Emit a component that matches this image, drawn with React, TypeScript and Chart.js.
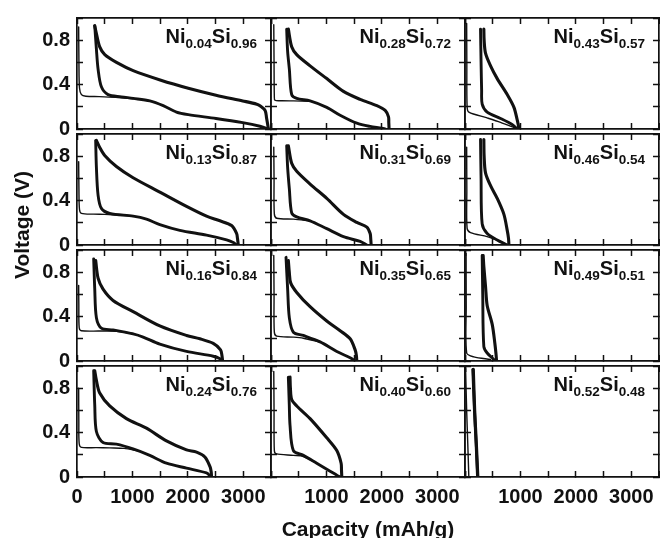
import React, { useEffect, useRef } from 'react';
import { Chart, registerables } from 'chart.js';

Chart.register(...registerables);

type Pt = [number, number];

// Compositions, column by column (top to bottom)
const niFractions = ['0.04', '0.13', '0.16', '0.24', '0.28', '0.31', '0.35', '0.40', '0.43', '0.46', '0.49', '0.52'];
const siFractions = ['0.96', '0.87', '0.84', '0.76', '0.72', '0.69', '0.65', '0.60', '0.57', '0.54', '0.51', '0.48'];

const xTickLabelsFirst = ['0', '1000', '2000', '3000'];
const xTickLabelsOther = ['1000', '2000', '3000'];
const yTickLabels = ['0', '0.4', '0.8'];
const xRange = [0, 3500];
const yRange = [0, 1];
const xStep = 500;
const yStep = 0.2;

// ---- Ni0.04Si0.96
const d1_004: Pt[] = [[30, 0.92], [35, 0.6], [45, 0.37], [80, 0.31], [160, 0.295], [400, 0.292], [700, 0.285], [1013, 0.272]];
const dn_004: Pt[] = [[320, 0.93], [350, 0.72], [380, 0.54], [440, 0.38], [560, 0.31], [800, 0.29], [1013, 0.276], [1313, 0.253], [1555, 0.21], [1795, 0.152], [2008, 0.129], [2508, 0.095], [2990, 0.057], [3300, 0.025], [3454, 0]];
const ch_004: Pt[] = [[3454, 0], [3420, 0.1], [3394, 0.167], [3300, 0.21], [3244, 0.224], [2990, 0.253], [2508, 0.305], [2008, 0.368], [1513, 0.44], [1013, 0.526], [712, 0.6], [501, 0.67], [410, 0.74], [350, 0.86], [320, 0.93]];
// ---- Ni0.13Si0.87
const d1_013: Pt[] = [[30, 0.75], [35, 0.5], [45, 0.32], [80, 0.285], [300, 0.278], [500, 0.276], [711, 0.27], [1012, 0.26]];
const dn_013: Pt[] = [[337, 0.94], [350, 0.7], [380, 0.45], [440, 0.33], [590, 0.285], [1012, 0.26], [1253, 0.233], [1494, 0.184], [1855, 0.132], [2337, 0.089], [2699, 0.046], [2830, 0.02], [2880, 0]];
const ch_013: Pt[] = [[2910, 0], [2895, 0.06], [2880, 0.103], [2789, 0.175], [2578, 0.218], [2337, 0.26], [1976, 0.348], [1494, 0.477], [1012, 0.606], [711, 0.707], [500, 0.807], [410, 0.879], [350, 0.943]];
// ---- Ni0.16Si0.84
const d1_016: Pt[] = [[30, 0.68], [33, 0.5], [40, 0.3], [78, 0.273], [400, 0.27], [710, 0.268], [1012, 0.248]];
const dn_016: Pt[] = [[301, 0.92], [320, 0.65], [350, 0.39], [440, 0.296], [650, 0.28], [1012, 0.244], [1193, 0.216], [1494, 0.152], [1976, 0.086], [2458, 0.043], [2580, 0.02], [2608, 0]];
const ch_016: Pt[] = [[2627, 0], [2615, 0.05], [2590, 0.1], [2458, 0.158], [2217, 0.2], [1976, 0.23], [1494, 0.316], [1012, 0.445], [650, 0.546], [470, 0.647], [380, 0.747], [337, 0.905]];
// ---- Ni0.24Si0.76
const d1_024: Pt[] = [[30, 0.8], [33, 0.5], [40, 0.3], [80, 0.267], [350, 0.265], [590, 0.262], [850, 0.258], [1100, 0.236]];
const dn_024: Pt[] = [[301, 0.957], [320, 0.65], [350, 0.41], [470, 0.31], [711, 0.296], [1012, 0.253], [1313, 0.195], [1614, 0.124], [1976, 0.08], [2337, 0.037], [2390, 0.015], [2398, 0]];
const ch_024: Pt[] = [[2428, 0], [2420, 0.05], [2398, 0.095], [2307, 0.18], [2157, 0.224], [1976, 0.244], [1614, 0.325], [1253, 0.44], [892, 0.526], [590, 0.64], [410, 0.756], [350, 0.87], [320, 0.957]];
// ---- Ni0.28Si0.72
const d1_028: Pt[] = [[50, 0.94], [55, 0.6], [60, 0.3], [72, 0.259], [200, 0.255], [404, 0.253], [705, 0.25]];
const dn_028: Pt[] = [[283, 0.9], [300, 0.7], [331, 0.54], [373, 0.31], [464, 0.276], [705, 0.253], [1006, 0.195], [1247, 0.124], [1548, 0.052], [1789, 0.023], [2000, 0.008], [2060, 0]];
const ch_028: Pt[] = [[2130, 0], [2125, 0.06], [2120, 0.109], [2060, 0.167], [1910, 0.21], [1608, 0.267], [1307, 0.339], [1006, 0.454], [705, 0.569], [464, 0.67], [373, 0.741], [313, 0.9]];
// ---- Ni0.31Si0.69
const d1_031: Pt[] = [[50, 0.88], [55, 0.6], [60, 0.28], [102, 0.241], [404, 0.233], [705, 0.218]];
const dn_031: Pt[] = [[283, 0.894], [300, 0.7], [331, 0.506], [373, 0.29], [464, 0.253], [705, 0.218], [1006, 0.147], [1307, 0.075], [1608, 0.032], [1729, 0]];
const ch_031: Pt[] = [[1807, 0], [1800, 0.05], [1789, 0.103], [1729, 0.161], [1548, 0.204], [1307, 0.276], [1006, 0.42], [705, 0.549], [464, 0.664], [373, 0.736], [313, 0.894]];
// ---- Ni0.35Si0.65
const d1_035: Pt[] = [[50, 0.95], [55, 0.6], [60, 0.26], [102, 0.224], [400, 0.215], [584, 0.205], [886, 0.17]];
const dn_035: Pt[] = [[271, 0.934], [300, 0.65], [331, 0.388], [404, 0.259], [584, 0.23], [886, 0.172], [1187, 0.086], [1428, 0.029], [1518, 0]];
const ch_035: Pt[] = [[1548, 0], [1540, 0.05], [1518, 0.1], [1428, 0.2], [1247, 0.273], [1006, 0.36], [705, 0.489], [464, 0.618], [355, 0.704], [330, 0.8], [313, 0.905]];
// ---- Ni0.40Si0.60
const d1_040: Pt[] = [[50, 0.95], [55, 0.6], [60, 0.24], [90, 0.21], [404, 0.195], [584, 0.185], [825, 0.124]];
const dn_040: Pt[] = [[313, 0.9], [330, 0.65], [343, 0.468], [404, 0.238], [584, 0.195], [825, 0.124], [1066, 0.052], [1200, 0.012], [1247, 0]];
const ch_040: Pt[] = [[1277, 0], [1272, 0.06], [1265, 0.124], [1187, 0.238], [1006, 0.353], [705, 0.526], [464, 0.64], [373, 0.698], [350, 0.8], [343, 0.9]];
// ---- Ni0.43Si0.57
const d1_043: Pt[] = [[30, 0.95], [33, 0.6], [38, 0.2], [69, 0.152], [400, 0.1], [641, 0.06], [900, 0.01]];
const dn_043: Pt[] = [[280, 0.9], [290, 0.6], [300, 0.35], [310, 0.224], [400, 0.152], [641, 0.095], [850, 0.04], [943, 0]];
const ch_043: Pt[] = [[973, 0], [960, 0.04], [943, 0.08], [883, 0.195], [762, 0.31], [581, 0.454], [461, 0.569], [370, 0.684], [345, 0.8], [340, 0.9]];
// ---- Ni0.46Si0.54
const d1_046: Pt[] = [[30, 0.88], [33, 0.5], [38, 0.15], [99, 0.112], [400, 0.075], [600, 0.04]];
const dn_046: Pt[] = [[280, 0.95], [290, 0.6], [310, 0.19], [400, 0.103], [581, 0.046], [700, 0.015], [762, 0]];
const ch_046: Pt[] = [[792, 0], [785, 0.06], [762, 0.132], [702, 0.276], [581, 0.42], [461, 0.534], [370, 0.65], [345, 0.8], [340, 0.95]];
// ---- Ni0.49Si0.51
const d1_049: Pt[] = [[20, 0.97], [22, 0.5], [30, 0.072], [160, 0.037], [461, 0.014]];
const dn_049: Pt[] = [[310, 0.95], [320, 0.6], [340, 0.13], [400, 0.072], [521, 0.014], [551, 0]];
const ch_049: Pt[] = [[569, 0], [560, 0.06], [539, 0.158], [491, 0.33], [400, 0.5], [370, 0.675], [340, 0.85], [328, 0.95]];
// ---- Ni0.52Si0.48
const d1_052: Pt[] = [[10, 0.98], [30, 0.6], [50, 0.3], [69, 0]];
const dn_052: Pt[] = [[141, 0.97], [170, 0.6], [200, 0.3], [226, 0]];
const ch_052: Pt[] = [[232, 0], [205, 0.3], [175, 0.6], [150, 0.97]];

const firstDischarge = [d1_004, d1_013, d1_016, d1_024, d1_028, d1_031, d1_035, d1_040, d1_043, d1_046, d1_049, d1_052];
const laterDischarge = [dn_004, dn_013, dn_016, dn_024, dn_028, dn_031, dn_035, dn_040, dn_043, dn_046, dn_049, dn_052];
const chargeCurves = [ch_004, ch_013, ch_016, ch_024, ch_028, ch_031, ch_035, ch_040, ch_043, ch_046, ch_049, ch_052];

// layout (pixels)
const PANEL_W = 194;
const PANEL_H = 116;
const ORIGIN_X = 77;
const ORIGIN_Y = 13;
const M_L = 60;
const M_R = 20;
const M_T = 20;
const M_B = 50;

const INK = '#111111';
const FONT = "'Liberation Sans', Arial, Helvetica, sans-serif";

function labelFor(list: string[], v: number): string {
  const hit = list.find((l) => Math.abs(parseFloat(l) - v) < 1e-6);
  return hit === undefined ? '' : hit;
}

function Panel({ idx }: { idx: number }) {
  const ref = useRef<HTMLCanvasElement>(null);
  const col = Math.floor(idx / 4);
  const row = idx % 4;
  const left = ORIGIN_X + col * PANEL_W - M_L;
  const top = ORIGIN_Y + row * PANEL_H - M_T;
  const W = PANEL_W + M_L + M_R;
  const H = PANEL_H + M_T + M_B;

  useEffect(() => {
    const showX = row === 3;
    const showY = col === 0;
    const xLabels = col === 0 ? xTickLabelsFirst : xTickLabelsOther;
    const toXY = (a: Pt[]) => a.map(([x, y]) => ({ x, y }));
    const tickFont = { family: FONT, size: 20, weight: 'bold' as const };
    const grid = {
      drawOnChartArea: false,
      drawTicks: true,
      tickLength: -6,
      tickColor: INK,
      tickWidth: 1.5,
    };
    const border = { display: true, color: INK, width: 1.7 };
    const line = {
      borderColor: INK,
      pointRadius: 0,
      fill: false,
      tension: 0.3,
      showLine: true,
      borderCapStyle: 'round' as const,
      borderJoinStyle: 'round' as const,
    };
    const chart = new Chart(ref.current as HTMLCanvasElement, {
      type: 'scatter',
      data: {
        datasets: [
          { ...line, data: toXY(firstDischarge[idx]), borderWidth: 1.4 },
          { ...line, data: toXY(laterDischarge[idx]), borderWidth: 2.9 },
          { ...line, data: toXY(chargeCurves[idx]), borderWidth: 3.1 },
        ],
      },
      options: {
        animation: false,
        responsive: false,
        events: [],
        layout: { padding: { top: M_T, right: M_R, bottom: 0, left: 0 } },
        plugins: { legend: { display: false }, tooltip: { enabled: false } },
        scales: {
          x: {
            type: 'linear',
            position: 'bottom',
            min: xRange[0],
            max: xRange[1],
            ticks: {
              stepSize: xStep,
              autoSkip: false,
              maxRotation: 0,
              minRotation: 0,
              padding: 14,
              color: INK,
              font: tickFont,
              callback: (v: any) => (showX ? labelFor(xLabels, Number(v)) : ''),
            },
            grid,
            border,
            afterFit: (s: any) => {
              s.height = M_B;
            },
          },
          x2: {
            type: 'linear',
            position: 'top',
            min: xRange[0],
            max: xRange[1],
            ticks: { stepSize: xStep, display: false, autoSkip: false },
            grid,
            border,
            afterFit: (s: any) => {
              s.height = 0;
            },
          },
          y: {
            type: 'linear',
            position: 'left',
            min: yRange[0],
            max: yRange[1],
            ticks: {
              stepSize: yStep,
              autoSkip: false,
              padding: 13,
              color: INK,
              font: tickFont,
              callback: (v: any) => (showY ? labelFor(yTickLabels, Number(v)) : ''),
            },
            grid,
            border,
            afterFit: (s: any) => {
              s.width = M_L;
            },
          },
          y2: {
            type: 'linear',
            position: 'right',
            min: yRange[0],
            max: yRange[1],
            ticks: { stepSize: yStep, display: false, autoSkip: false },
            grid,
            border,
            afterFit: (s: any) => {
              s.width = 0;
            },
          },
        },
      } as any,
    });
    return () => chart.destroy();
  }, [idx]);

  return (
    <canvas
      ref={ref}
      width={W}
      height={H}
      style={{ position: 'absolute', left, top, width: W, height: H }}
    />
  );
}

function PanelLabel({ idx }: { idx: number }) {
  const col = Math.floor(idx / 4);
  const row = idx % 4;
  const right = 660 - (ORIGIN_X + (col + 1) * PANEL_W - 14);
  const top = ORIGIN_Y + row * PANEL_H + 13;
  const sub: React.CSSProperties = { fontSize: 13.5, position: 'relative', top: 5 };
  return (
    <div
      style={{
        position: 'absolute',
        right,
        top,
        fontFamily: FONT,
        fontWeight: 'bold',
        fontSize: 20,
        lineHeight: '20px',
        color: INK,
        whiteSpace: 'nowrap',
      }}
    >
      Ni<span style={sub}>{niFractions[idx]}</span>Si<span style={sub}>{siFractions[idx]}</span>
    </div>
  );
}

export default function App() {
  const idxs = Array.from({ length: 12 }, (_, i) => i);
  return (
    <div
      style={{
        position: 'absolute',
        left: 0,
        top: 0,
        width: 660,
        height: 538,
        background: '#fff',
        overflow: 'hidden',
      }}
    >
      {idxs.map((i) => (
        <Panel key={'p' + i} idx={i} />
      ))}
      {idxs.map((i) => (
        <PanelLabel key={'l' + i} idx={i} />
      ))}
      <div
        style={{
          position: 'absolute',
          left: 218,
          top: 518,
          width: 300,
          textAlign: 'center',
          fontFamily: FONT,
          fontWeight: 'bold',
          fontSize: 21,
          lineHeight: '21px',
          color: INK,
          whiteSpace: 'nowrap',
        }}
      >
        Capacity (mAh/g)
      </div>
      <div
        style={{
          position: 'absolute',
          left: 22 - 100,
          top: 225 - 12,
          width: 200,
          height: 24,
          textAlign: 'center',
          transform: 'rotate(-90deg)',
          transformOrigin: 'center',
          fontFamily: FONT,
          fontWeight: 'bold',
          fontSize: 21,
          lineHeight: '24px',
          color: INK,
          whiteSpace: 'nowrap',
        }}
      >
        Voltage (V)
      </div>
    </div>
  );
}
